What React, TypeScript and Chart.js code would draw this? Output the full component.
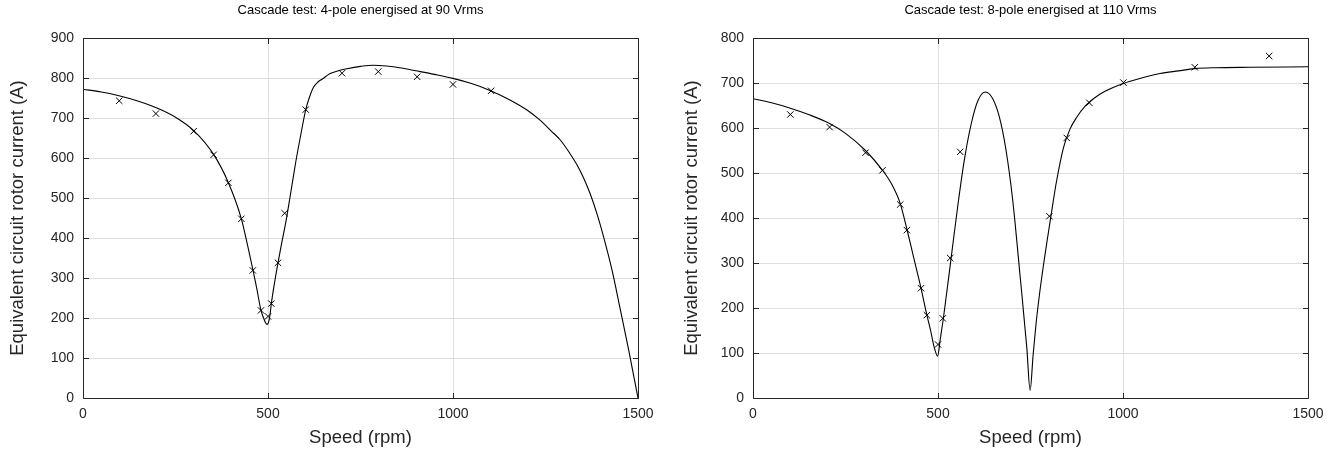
import React, { useEffect, useRef } from "react";
import { Chart, registerables } from "chart.js";

Chart.register(...registerables);

const FONT = "'Liberation Sans', Arial, Helvetica, sans-serif";

// ---- shared axis data ----
const speedTicks = [0, 500, 1000, 1500];
const yLabel = "Equivalent circuit rotor current (A)";
const xLabel = "Speed (rpm)";

// ---- left chart: 4-pole energised at 90 Vrms ----
const leftTitle = "Cascade test: 4-pole energised at 90 Vrms";
const leftYMax = 900;
const leftCurveSpeed = [
  0, 50, 100, 150, 200, 250, 300, 353, 393, 428, 445, 460, 470, 481, 488, 493, 497, 501, 505,
  509, 518, 527, 538, 549, 560, 575, 590, 602, 612, 623, 635, 646, 668, 690, 713, 750, 785, 820,
  860, 900, 950, 1000, 1050, 1100, 1150, 1200, 1236, 1265, 1290, 1312, 1335, 1353, 1371, 1390,
  1407, 1430, 1452, 1475, 1500,
];
const leftCurveCurrent = [
  772, 765, 755, 742, 725, 702, 668, 609, 538, 448, 381, 317, 272, 219, 200, 189, 184, 188, 205,
  236, 290, 338, 392, 444, 505, 590, 665, 721, 752, 777, 790, 797, 811, 818, 823, 829, 832, 830,
  825, 818, 809, 799, 786, 769, 747, 720, 694, 668, 645, 617, 583, 550, 510, 458,
  403, 319, 222, 119, 0,
];
const leftMeasSpeed = [98, 197, 299, 353, 393, 428, 459, 481, 500, 509, 527, 545, 602, 700, 798, 903, 1000, 1103];
const leftMeasCurrent = [743, 711, 667, 608, 538, 448, 319, 219, 204, 236, 338, 462, 721, 812, 816, 803, 784, 768];

// ---- right chart: 8-pole energised at 110 Vrms ----
const rightTitle = "Cascade test: 8-pole energised at 110 Vrms";
const rightYMax = 800;
const rightCurveSpeed = [
  0, 50, 101, 150, 207, 250, 304, 350, 375, 398, 416, 434, 454, 470, 480, 490, 499, 506, 515, 535,
  553, 571, 590, 608, 628, 648, 666, 684, 702, 722, 740, 749, 757, 765, 775, 785, 795, 805,
  820, 839, 857, 875, 897, 920, 950, 1001, 1050, 1100, 1150, 1194, 1250, 1343, 1500,
];
const rightCurveCurrent = [
  665, 656, 644, 630, 610, 588, 550, 506, 475, 432, 375, 313, 244, 184, 150, 112, 93, 130, 180, 308,
  424, 528, 610, 661, 680, 665, 624, 550, 439, 270, 112, 17, 95, 165, 235, 295, 350, 403,
  480, 556, 598, 624, 648, 665, 681, 699, 711, 721, 727, 732, 734, 735, 736,
];
const rightMeasSpeed = [101, 207, 304, 350, 398, 416, 454, 470, 500, 513, 533, 560, 801, 848, 909, 1001, 1194, 1395];
const rightMeasCurrent = [630, 602, 545, 506, 430, 373, 244, 184, 119, 177, 311, 547, 404, 578, 656, 701, 735, 760];

const AXIS_COLOR = "#262626";
const GRID_COLOR = "#dfdfdf";
const TICK_SIZE = 14;
const LABEL_SIZE = 18.5;
const TITLE_SIZE = 13;

const axesTitlePlugin = {
  id: "axesTitle",
  afterDraw(chart: any, _args: any, opts: any) {
    const { ctx, chartArea } = chart;
    ctx.save();
    ctx.font = `${opts.size}px ${FONT}`;
    ctx.fillStyle = "#000";
    ctx.textAlign = "center";
    ctx.textBaseline = "middle";
    ctx.fillText(opts.text, (chartArea.left + chartArea.right) / 2, opts.y);
    ctx.restore();
  },
};

const align = (p: number) => Math.round(p - 0.5) + 0.5;

const boxPlugin = {
  id: "matlabBox",
  afterDatasetsDraw(chart: any) {
    const { ctx, chartArea, scales } = chart;
    const L = align(chartArea.left);
    const R = align(chartArea.right);
    const T = align(chartArea.top);
    const B = align(chartArea.bottom);
    const tl = 5.5;
    ctx.save();
    ctx.strokeStyle = AXIS_COLOR;
    ctx.lineWidth = 1;
    ctx.beginPath();
    ctx.rect(L, T, R - L, B - T);
    scales.x.ticks.forEach((t: any) => {
      const px = align(scales.x.getPixelForValue(t.value));
      ctx.moveTo(px, B);
      ctx.lineTo(px, B - tl);
      ctx.moveTo(px, T);
      ctx.lineTo(px, T + tl);
    });
    scales.y.ticks.forEach((t: any) => {
      const py = align(scales.y.getPixelForValue(t.value));
      ctx.moveTo(L, py);
      ctx.lineTo(L + tl, py);
      ctx.moveTo(R, py);
      ctx.lineTo(R - tl, py);
    });
    ctx.stroke();
    ctx.restore();
  },
};

type PanelProps = {
  left: number;
  title: string;
  yMax: number;
  curveX: number[];
  curveY: number[];
  measX: number[];
  measY: number[];
  yAxisWidth: number;
  padRight: number;
  yTitlePad: number;
};

function Panel(p: PanelProps) {
  const ref = useRef<HTMLCanvasElement | null>(null);
  useEffect(() => {
    if (!ref.current) return;
    const curve = p.curveX.map((x, i) => ({ x, y: p.curveY[i] }));
    const meas = p.measX.map((x, i) => ({ x, y: p.measY[i] }));
    const chart = new Chart(ref.current, {
      type: "scatter",
      data: {
        datasets: [
          {
            data: curve,
            showLine: true,
            borderColor: "#000",
            borderWidth: 1.1,
            pointRadius: 0,
            cubicInterpolationMode: "monotone",
            order: 2,
          } as any,
          {
            data: meas,
            showLine: false,
            pointStyle: "crossRot",
            pointRadius: 4.5,
            borderColor: "#000",
            backgroundColor: "#000",
            pointBorderWidth: 1,
            order: 1,
          } as any,
        ],
      },
      options: {
        responsive: false,
        animation: false,
        devicePixelRatio: 1,
        layout: { padding: { top: 38, right: p.padRight, left: 0, bottom: 0 } },
        plugins: {
          legend: { display: false },
          tooltip: { enabled: false },
          title: { display: false },
          axesTitle: { text: p.title, size: TITLE_SIZE, y: 10.5 },
        } as any,
        scales: {
          x: {
            type: "linear",
            min: 0,
            max: 1500,
            afterBuildTicks: (s: any) => {
              s.ticks = speedTicks.map((v) => ({ value: v }));
            },
            afterFit: (s: any) => {
              s.height = 53;
            },
            ticks: {
              color: AXIS_COLOR,
              font: { family: FONT, size: TICK_SIZE },
              padding: 8,
              maxRotation: 0,
              callback: (v: any) => String(v),
            },
            grid: { color: GRID_COLOR, drawTicks: false, lineWidth: 1 },
            border: { display: false },
            title: {
              display: true,
              text: xLabel,
              color: AXIS_COLOR,
              font: { family: FONT, size: LABEL_SIZE },
              padding: { top: 0, bottom: 2 },
            },
          },
          y: {
            type: "linear",
            min: 0,
            max: p.yMax,
            ticks: {
              stepSize: 100,
              color: AXIS_COLOR,
              font: { family: FONT, size: TICK_SIZE },
              padding: 9,
              callback: (v: any) => String(v),
            },
            afterFit: (s: any) => {
              s.width = p.yAxisWidth;
            },
            grid: { color: GRID_COLOR, drawTicks: false, lineWidth: 1 },
            border: { display: false },
            title: {
              display: true,
              text: yLabel,
              color: AXIS_COLOR,
              font: { family: FONT, size: LABEL_SIZE },
              padding: { top: p.yTitlePad, bottom: 0 },
            },
          },
        },
      },
      plugins: [axesTitlePlugin, boxPlugin],
    });
    return () => chart.destroy();
  }, []);
  return (
    <canvas
      ref={ref}
      width={669}
      height={451}
      style={{ position: "absolute", left: p.left, top: 0, width: 669, height: 451 }}
    />
  );
}

export default function App() {
  return (
    <div style={{ position: "absolute", left: 0, top: 0, width: 1338, height: 451, background: "#fff" }}>
      <Panel
        left={0}
        title={leftTitle}
        yMax={leftYMax}
        curveX={leftCurveSpeed}
        curveY={leftCurveCurrent}
        measX={leftMeasSpeed}
        measY={leftMeasCurrent}
        yAxisWidth={83}
        padRight={31}
        yTitlePad={7.2}
      />
      <Panel
        left={669}
        title={rightTitle}
        yMax={rightYMax}
        curveX={rightCurveSpeed}
        curveY={rightCurveCurrent}
        measX={rightMeasSpeed}
        measY={rightMeasCurrent}
        yAxisWidth={84}
        padRight={30}
        yTitlePad={11.6}
      />
    </div>
  );
}
